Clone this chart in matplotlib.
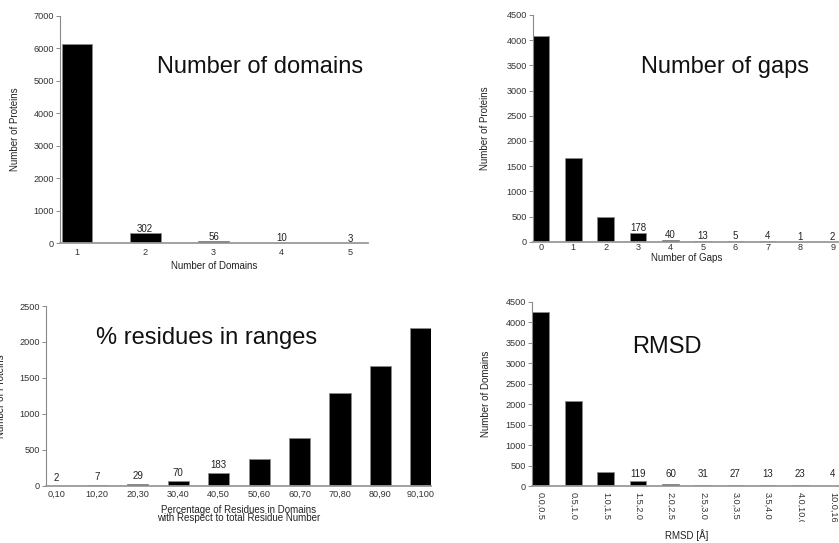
#! /usr/bin/env python
# Four bar panels: domains, gaps, % residues in ranges, RMSD

import numpy as np
import matplotlib
matplotlib.use('Agg')
import matplotlib.pyplot as plt
from matplotlib.transforms import Bbox

plt.rcParams['font.family'] = ['Liberation Sans', 'DejaVu Sans']

# ---- data ----
domain_labels = ['1', '2', '3', '4', '5']
domain_counts = [6120, 302, 56, 10, 3]

gap_labels = ['0', '1', '2', '3', '4', '5', '6', '7', '8', '9']
gap_counts = [4088, 1670, 490, 178, 40, 13, 5, 4, 1, 2]

range_labels = ['0,10', '10,20', '20,30', '30,40', '40,50',
                '50,60', '60,70', '70,80', '80,90', '90,100']
range_counts = [2, 7, 29, 70, 183, 371, 668, 1285, 1669, 2198]

rmsd_labels = ['0.0,0.5', '0.5,1.0', '1.0,1.5', '1.5,2.0', '2.0,2.5',
               '2.5,3.0', '3.0,3.5', '3.5,4.0', '4.0,10.0', '10.0,16.0']
rmsd_counts = [4240, 2075, 350, 119, 60, 31, 27, 13, 23, 4]

W, H = 839, 543
fig = plt.figure(figsize=(W / 100, H / 100), dpi=100)


def fx(x):
    return x / W


def fy(y):
    return 1 - y / H


def panel(left, right, top, bottom):
    return fig.add_axes([fx(left), fy(bottom), fx(right - left), (bottom - top) / H])


def style(ax, ymax, ystep, xpad):
    for s in ['top', 'right']:
        ax.spines[s].set_visible(False)
    ax.spines['left'].set_color('#8a8a8a')
    ax.spines['left'].set_linewidth(0.8)
    ax.spines['bottom'].set_color('#9a9a9a')
    ax.spines['bottom'].set_linewidth(1.3)
    ax.set_ylim(0, ymax)
    ax.set_yticks(np.arange(0, ymax + 1, ystep))
    ax.tick_params(axis='y', length=3.2, width=0.7, color='#8a8a8a', pad=1.0,
                   labelsize=6.6, labelcolor='#333333')
    ax.tick_params(axis='x', length=0, pad=xpad, labelsize=6.6, labelcolor='#333333')


def place_labels(ax, xl, yl):
    # xl, yl: pixel centres (from top-left) of the x and y axis labels
    ax.xaxis.set_label_coords(fx(xl[0]), fy(xl[1]), transform=fig.transFigure)
    ax.xaxis.label.set_va('center')
    ax.yaxis.set_label_coords(fx(yl[0]), fy(yl[1]), transform=fig.transFigure)
    ax.yaxis.label.set_va('center')


bar_kw = dict(color='black', edgecolor='#8c8c8c', linewidth=0.6)
val_kw = dict(ha='center', va='baseline', fontsize=7, color='#222222')
lab_kw = dict(fontsize=7, color='#222222')
title_kw = dict(ha='center', va='baseline', fontsize=17, color='#111111')

# ---- panel 1: number of domains ----
ax1 = panel(60, 368, 15.7, 243.3)
x1 = np.arange(1, len(domain_counts) + 1)
ax1.bar(x1, domain_counts, 0.45, **bar_kw)
ax1.set_xlim(0.751, 5.264)
ax1.set_xticks(x1)
ax1.set_xticklabels(domain_labels)
style(ax1, 7000, 1000, 3.4)
for xi, v in zip(x1[1:], domain_counts[1:]):
    ax1.annotate(str(v), (xi, v), xytext=(0, 1.2), textcoords='offset points', **val_kw)
ax1.set_xlabel('Number of Domains', **lab_kw)
ax1.set_ylabel('Number of Proteins', **lab_kw)
place_labels(ax1, (214, 266), (15, 129.5))
fig.text(fx(260), fy(73.3), 'Number of domains', **title_kw)

# ---- panel 2: number of gaps ----
ax2 = panel(532.7, 841, 15, 241.7)
x2 = np.arange(len(gap_counts))
ax2.bar(x2, gap_counts, 0.52, **bar_kw)
ax2.set_xlim(-0.247, 9.257)
ax2.set_xticks(x2)
ax2.set_xticklabels(gap_labels)
style(ax2, 4500, 500, 1.2)
for xi, v in zip(x2[3:], gap_counts[3:]):
    ax2.annotate(str(v), (xi, v), xytext=(0, 1.5), textcoords='offset points', **val_kw)
ax2.set_xlabel('Number of Gaps', **lab_kw)
ax2.set_ylabel('Number of Proteins', **lab_kw)
place_labels(ax2, (686.7, 257.5), (485, 128.3))
fig.text(fx(725), fy(73.3), 'Number of gaps', **title_kw)

# ---- panel 3: % residues in ranges ----
ax3 = panel(46, 431, 306, 485.7)
x3 = np.arange(len(range_counts))
ax3.bar(x3, range_counts, 0.52, **bar_kw)
ax3.set_xlim(-0.264, 9.249)
ax3.set_xticks(x3)
ax3.set_xticklabels(range_labels)
style(ax3, 2500, 500, 3.2)
for xi, v in zip(x3[:5], range_counts[:5]):
    ax3.annotate(str(v), (xi, v), xytext=(0, 3.5), textcoords='offset points', **val_kw)
ax3.set_xlabel('Percentage of Residues in Domains\nwith Respect to total Residue Number',
               linespacing=0.8, **lab_kw)
ax3.set_ylabel('Number of Proteins', **lab_kw)
place_labels(ax3, (238.6, 514), (1.5, 396))
fig.text(fx(207), fy(344), '% residues in ranges', **title_kw)

# ---- panel 4: RMSD ----
ax4 = panel(531.7, 841, 301.7, 486)
x4 = np.arange(len(rmsd_counts))
ax4.bar(x4, rmsd_counts, 0.52, **bar_kw)
ax4.set_xlim(-0.277, 9.257)
ax4.set_xticks(x4)
ax4.set_xticklabels(rmsd_labels, rotation=-90, ha='center', va='top')
style(ax4, 4500, 500, 4.6)
# long labels are cut off just below the axis in the original
clip = Bbox.from_extents(0, H - 521.7, W, H)
for lab in ax4.get_xticklabels():
    lab.set_clip_box(clip)
    lab.set_clip_on(True)
for xi, v in zip(x4[3:], rmsd_counts[3:]):
    ax4.text(xi, 227, str(v), **val_kw)
ax4.set_xlabel('RMSD [Å]', **lab_kw)
ax4.set_ylabel('Number of Domains', **lab_kw)
place_labels(ax4, (686.7, 535), (485.7, 393.8))
fig.text(fx(667), fy(353.3), 'RMSD', **title_kw)

fig.savefig('out.png', dpi=100)
